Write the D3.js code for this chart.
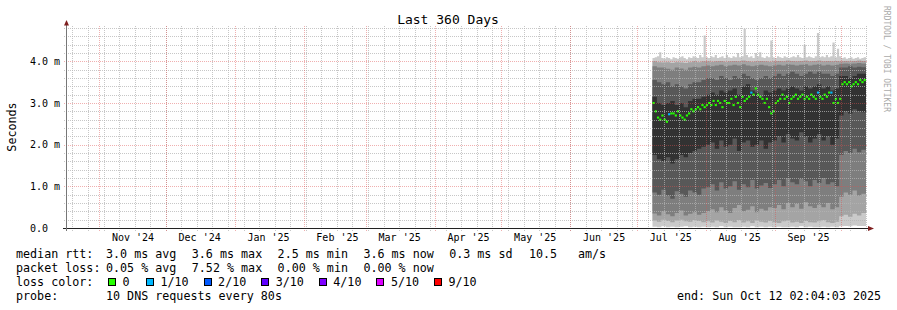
<!DOCTYPE html>
<html>
<head>
<meta charset="utf-8">
<script src="https://cdn.jsdelivr.net/npm/d3@7/dist/d3.min.js"></script>
<style>
  body { margin: 0; background: #fff; }
  text { font-family: "DejaVu Sans Mono", monospace; fill: #000; }
</style>
</head>
<body>
<svg id="chart" width="897" height="310"></svg>
<script>
// ---- time range of the graph (last 360 days) ----
var DAY = 864e5;
var rangeStart = Date.UTC(2024, 9, 17, 2, 4, 3);
var rangeEnd = Date.UTC(2025, 9, 12, 2, 4, 3);
var dataStart = Date.UTC(2025, 6, 8);      // first day that has samples

// ---- median rtt per day (ms) and loss level index per day ----
var median = [
  3.0,2.8,2.65,2.6,2.7,2.6,2.55,2.73,2.75,2.75,
  2.7,2.8,2.7,2.65,2.6,2.7,2.75,2.85,2.8,2.85,
  2.9,2.85,2.95,2.9,2.95,3.0,2.95,3.05,2.95,3.05,
  3.0,2.9,3.05,3.0,3.0,3.1,2.95,3.15,3.0,2.9,
  3.15,3.05,3.1,3.15,3.25,3.2,3.35,3.2,3.15,3.1,
  3.0,3.1,2.9,2.75,2.8,3.0,3.05,3.1,3.2,3.1,
  3.15,3.0,3.1,3.15,3.2,3.1,3.15,3.2,3.1,3.15,
  3.1,3.2,3.15,3.1,3.25,3.15,3.1,3.2,3.15,3.25,
  3.25,3.0,3.1,3.0,3.1,3.45,3.5,3.45,3.5,3.4,
  3.45,3.5,3.45,3.55,3.5,3.55
];
var loss = [
  0,0,0,0,0,0,0,1,0,0, 0,0,0,0,0,0,0,0,0,0, 0,0,0,0,0,0,0,0,0,0,
  0,0,0,0,0,0,0,0,0,0, 0,0,0,0,1,0,0,0,0,0, 0,0,0,0,0,0,0,0,0,0,
  0,0,0,0,0,0,0,0,0,0, 0,0,0,0,1,0,0,0,0,0, 1,0,0,0,0,0,0,0,0,0,
  0,0,0,0,0,0
];

// ---- slowest ping per day (top of the smoke) ----
var p10 = [
  4.08,4.1,4.12,4.22,4.08,4.06,4.1,4.08,4.05,4.1,
  4.08,4.06,4.1,4.12,4.08,4.05,4.1,4.08,4.12,4.1,
  4.08,4.15,4.1,4.62,4.1,4.08,4.12,4.1,4.15,4.08,
  4.1,4.12,4.08,4.15,4.1,4.08,4.12,4.1,4.2,4.1,
  4.12,4.78,4.15,4.1,4.12,4.08,4.2,4.12,4.22,4.1,
  4.08,4.12,4.1,4.5,4.1,4.08,4.12,4.1,4.08,4.12,
  4.1,4.08,4.1,4.12,4.1,4.15,4.1,4.08,4.4,4.1,
  4.12,4.1,4.08,4.12,4.68,4.1,4.12,4.1,4.15,4.1,
  4.12,4.45,4.1,4.3,4.12,4.08,4.1,4.06,4.08,4.1,
  4.06,4.08,4.1,4.06,4.08,4.1
];

// ---- sorted pings 1..9, one value per two days (ms) ----
var p1 = [0.03,0.02,0.04,0.02,0.03,0.02,0.03,0.04,0.02,0.03,0.02,0.03,
  0.02,0.03,0.02,0.04,0.02,0.03,0.02,0.02,0.03,0.02,0.04,0.02,0.03,0.02,0.03,
  0.02,0.03,0.02,0.02,0.03,0.02,0.04,0.02,0.03,0.02,0.02,0.03,0.02,0.03,0.02,
  0.04,0.05,0.04,0.06,0.05,0.05];
var p2 = [0.18,0.15,0.2,0.17,0.14,0.18,0.2,0.16,0.15,0.19,0.17,0.14,
  0.16,0.13,0.18,0.15,0.12,0.17,0.14,0.19,0.13,0.16,0.12,0.18,0.15,0.13,0.17,
  0.14,0.12,0.16,0.18,0.13,0.15,0.12,0.17,0.14,0.13,0.16,0.19,0.14,0.12,0.15,
  0.28,0.32,0.27,0.34,0.3,0.36];
var p3 = [0.35,0.3,0.4,0.33,0.28,0.36,0.42,0.3,0.34,0.38,0.32,0.36,
  0.4,0.45,0.38,0.5,0.42,0.36,0.48,0.55,0.4,0.44,0.52,0.38,0.46,0.42,0.5,
  0.48,0.55,0.45,0.6,0.5,0.58,0.46,0.62,0.52,0.48,0.56,0.5,0.6,0.45,0.5,
  0.75,0.85,0.8,0.9,0.78,0.82];
var p4 = [0.85,0.8,0.92,0.78,0.7,0.88,0.82,0.75,0.9,0.85,0.8,0.95,
  0.98,1.05,0.9,1.1,0.95,1.0,1.12,0.92,1.05,0.98,1.15,0.95,1.02,1.08,0.96,
  1.05,1.15,1.0,1.2,1.1,1.05,1.18,1.12,1.0,1.15,1.08,1.2,1.05,1.1,1.0,
  1.75,1.85,1.8,1.9,1.82,1.88];
var p5 = [1.75,1.65,1.6,1.7,1.55,1.65,1.75,1.7,1.8,1.85,1.9,1.95,
  2.0,2.05,1.9,2.1,1.95,2.0,2.15,1.85,2.05,2.1,1.95,2.0,2.1,1.9,2.05,
  2.1,2.2,2.05,2.25,2.15,2.1,2.3,2.2,2.05,2.15,2.25,2.1,2.2,2.0,2.15,
  2.7,2.8,2.75,2.85,2.8,2.78];
var p6 = [3.15,3.0,2.95,3.0,3.05,2.95,3.0,2.9,3.05,3.1,3.1,3.15,
  3.2,3.25,3.2,3.3,3.25,3.3,3.35,3.2,3.4,3.45,3.3,3.25,3.15,3.3,3.25,
  3.3,3.35,3.3,3.35,3.4,3.35,3.3,3.4,3.35,3.4,3.45,3.35,3.4,3.3,3.35,
  3.65,3.65,3.6,3.65,3.7,3.7];
var p7 = [3.55,3.5,3.45,3.5,3.4,3.45,3.4,3.35,3.45,3.5,3.5,3.55,
  3.6,3.6,3.55,3.65,3.6,3.55,3.65,3.6,3.7,3.65,3.6,3.55,3.6,3.65,3.6,
  3.65,3.7,3.65,3.7,3.75,3.7,3.65,3.7,3.75,3.7,3.75,3.7,3.7,3.65,3.7,
  3.85,3.85,3.88,3.85,3.87,3.86];
var p8 = [3.88,3.85,3.85,3.82,3.8,3.85,3.83,3.8,3.85,3.87,3.85,3.88,
  3.9,3.88,3.9,3.92,3.88,3.9,3.92,3.9,3.93,3.9,3.88,3.9,3.92,3.9,3.88,
  3.9,3.92,3.9,3.93,3.92,3.9,3.92,3.93,3.9,3.92,3.93,3.9,3.92,3.9,3.92,
  3.94,3.95,3.94,3.95,3.96,3.95];
var p9 = [4.0,3.98,3.97,3.98,3.96,3.98,3.97,3.96,3.98,4.0,3.98,4.0,
  4.0,3.99,4.0,4.01,3.99,4.0,4.01,4.0,4.02,4.0,3.99,4.0,4.01,4.0,3.99,
  4.0,4.01,4.0,4.02,4.01,4.0,4.01,4.02,4.0,4.01,4.02,4.0,4.01,4.0,4.01,
  4.0,4.01,4.0,4.01,4.02,4.01];

// ---- labels ----
var yTickValues = [0, 1, 2, 3, 4];
var yTickLabels = ["0.0", "1.0 m", "2.0 m", "3.0 m", "4.0 m"];
var title = "Last 360 Days";
var rttLegend = ["3.0 ms avg", "3.6 ms max", "2.5 ms min", "3.6 ms now", "0.3 ms sd"];
var rttRate = ["10.5", "am/s"];
var lossLegend = ["0.05 % avg", "7.52 % max", "0.00 % min", "0.00 % now"];
var lossLevels = ["0", "1/10", "2/10", "3/10", "4/10", "5/10", "9/10"];
var lossColors = ["#26ff00", "#00b8ff", "#0059ff", "#5e00ff", "#7e00ff", "#dd00ff", "#ff0000"];
var probeText = "10 DNS requests every 80s";
var endText = "end: Sun Oct 12 02:04:03 2025";

var svg = d3.select('#chart');
svg.append('rect').attr('width', 897).attr('height', 310).attr('fill', '#fff');

// scales
var x = d3.scaleUtc().domain([rangeStart, rangeEnd]).range([66, 866]);
var y = d3.scaleLinear().domain([0, 4.8]).range([228, 28]);
function px(v) { return Math.round(v) + 0.5; }

var area = d3.area()
  .curve(d3.curveStepAfter)
  .x(function(d) { return x(d.t); })
  .y0(function(d) { return y(d.lo); })
  .y1(function(d) { return y(d.hi); });

var plot = svg.append('g');

// outer smoke: fastest to slowest ping
var outer = p10.map(function(v, i) {
  return { t: dataStart + i * DAY, lo: p1[Math.floor(i / 2)], hi: v };
});
outer.push({ t: rangeEnd, lo: outer[outer.length - 1].lo, hi: outer[outer.length - 1].hi });
plot.append('path').datum(outer).attr('d', area).attr('fill', '#cacaca');

// inner smoke bands
var pings = [p1, p2, p3, p4, p5, p6, p7, p8, p9];
var bands = [[1, 8, '#a4a4a4'], [2, 7, '#7e7e7e'], [3, 6, '#585858'], [4, 5, '#323232']];
bands.forEach(function(b) {
  var rows = p1.map(function(_, k) {
    return { t: dataStart + 2 * k * DAY, lo: pings[b[0]][k], hi: pings[b[1]][k] };
  });
  rows.push({ t: rangeEnd, lo: rows[rows.length - 1].lo, hi: rows[rows.length - 1].hi });
  plot.append('path').datum(rows).attr('d', area).attr('fill', b[2]);
});

// median, coloured by loss
var medOff = 0.025;
plot.selectAll('rect.med').data(median).enter().append('rect')
  .attr('class', 'med')
  .attr('x', function(d, i) { return x(dataStart + i * DAY); })
  .attr('width', function(d, i) {
    return x(Math.min(dataStart + (i + 1) * DAY, rangeEnd)) - x(dataStart + i * DAY);
  })
  .attr('y', function(d) { return y(d + medOff); })
  .attr('height', function(d) { return y(d - medOff) - y(d + medOff); })
  .attr('fill', function(d, i) { return lossColors[loss[i]]; });

// grid (drawn over the data, like rrdtool)
var grid = svg.append('g').attr('shape-rendering', 'crispEdges').attr('stroke-dasharray', '1,1');
var minorColor = 'rgba(180,180,180,0.75)', majorColor = 'rgba(222,80,80,0.45)';

var minorY = d3.range(1, 25).filter(function(i) { return i % 5 !== 0; }).map(function(i) { return i / 5; });
grid.selectAll('line.hy').data(minorY).enter().append('line')
  .attr('class', 'hy')
  .attr('x1', 64).attr('x2', 868)
  .attr('y1', function(d) { return px(y(d)); }).attr('y2', function(d) { return px(y(d)); })
  .attr('stroke', minorColor);

var weeks = d3.utcSunday.range(rangeStart, rangeEnd);
grid.selectAll('line.vx').data(weeks).enter().append('line')
  .attr('class', 'vx')
  .attr('y1', 26).attr('y2', 231)
  .attr('x1', function(d) { return px(x(d)); }).attr('x2', function(d) { return px(x(d)); })
  .attr('stroke', minorColor);

grid.selectAll('line.my').data(yTickValues.slice(1)).enter().append('line')
  .attr('class', 'my')
  .attr('x1', 64).attr('x2', 868)
  .attr('y1', function(d) { return px(y(d)); }).attr('y2', function(d) { return px(y(d)); })
  .attr('stroke', majorColor);

var months = d3.utcMonth.range(rangeStart, rangeEnd);
grid.selectAll('line.mx').data(months).enter().append('line')
  .attr('class', 'mx')
  .attr('y1', 26).attr('y2', 231)
  .attr('x1', function(d) { return px(x(d)); }).attr('x2', function(d) { return px(x(d)); })
  .attr('stroke', majorColor);

// axes lines and arrows
svg.append('line').attr('x1', 63).attr('x2', 869).attr('y1', 228.5).attr('y2', 228.5)
  .attr('stroke', '#222').attr('shape-rendering', 'crispEdges');
svg.append('line').attr('x1', 66.5).attr('x2', 66.5).attr('y1', 231).attr('y2', 24)
  .attr('stroke', '#777').attr('shape-rendering', 'crispEdges');
svg.append('path').attr('d', 'M64,25.5 L69,25.5 L66.5,20 Z').attr('fill', '#7f1f1f');
svg.append('path').attr('d', 'M868,226 L868,231 L874,228.5 Z').attr('fill', '#7f1f1f');

// month labels, centred half a month after the month starts
var labelDates = d3.utcMonth.range(d3.utcMonth.floor(rangeStart), rangeEnd)
  .map(function(d) { return d3.utcDay.offset(d, 15); })
  .filter(function(d) { return d > rangeStart && d < rangeEnd; });
var xAxis = d3.axisBottom(x).tickValues(labelDates)
  .tickFormat(d3.utcFormat("%b '%y")).tickSize(0).tickPadding(6);
var gx = svg.append('g').attr('transform', 'translate(0,228)').call(xAxis);
gx.select('.domain').remove();
gx.selectAll('text').attr('font-family', '"DejaVu Sans Mono", monospace').attr('font-size', 10).attr('fill', '#000');

var yAxis = d3.axisLeft(y).tickValues(yTickValues)
  .tickFormat(function(d, i) { return yTickLabels[i]; }).tickSize(0);
var gy = svg.append('g').attr('transform', 'translate(66,0)').call(yAxis);
gy.select('.domain').remove();
gy.selectAll('text').attr('x', -36).attr('text-anchor', 'start')
  .attr('font-family', '"DejaVu Sans Mono", monospace').attr('font-size', 10).attr('fill', '#000');

// title, axis title, watermark
svg.append('text').attr('x', 448).attr('y', 24).attr('text-anchor', 'middle')
  .attr('font-size', 13).text(title);
svg.append('text').attr('transform', 'translate(15.5,127) rotate(-90)').attr('text-anchor', 'middle')
  .attr('font-size', 11.7).text('Seconds');
svg.append('text').attr('transform', 'translate(884,59) rotate(90)').attr('text-anchor', 'middle')
  .attr('font-size', 8).style('fill', '#aaa').text('RRDTOOL / TOBI OETIKER');

// legend
var legend = svg.append('g').attr('font-size', 11.7);
function ltext(xp, yp, s) { legend.append('text').attr('x', xp).attr('y', yp).text(s); }
ltext(16, 258, 'median rtt:');
rttLegend.forEach(function(s, i) { ltext(106 + 85.8 * i, 258, s); });
ltext(529, 258, rttRate[0]);
ltext(578, 258, rttRate[1]);

ltext(16, 272, 'packet loss:');
lossLegend.forEach(function(s, i) { ltext(106 + 85.8 * i, 272, s); });

ltext(16, 286, 'loss color:');
lossLevels.forEach(function(s, i) {
  var bx = i === 0 ? 108 : 146 + 57.6 * (i - 1);
  legend.append('rect').attr('x', bx + 0.5).attr('y', 278.5).attr('width', 7).attr('height', 7)
    .attr('fill', lossColors[i]).attr('stroke', '#000').attr('shape-rendering', 'crispEdges');
  ltext(bx + 14.5, 286, s);
});

ltext(16, 300, 'probe:');
ltext(106, 300, probeText);
ltext(677, 300, endText);
</script>
</body>
</html>
